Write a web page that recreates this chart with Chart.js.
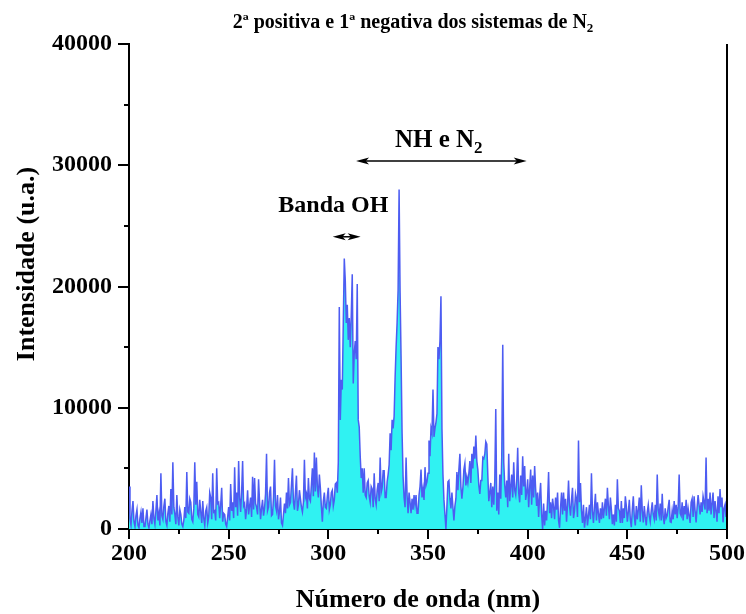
<!DOCTYPE html>
<html><head><meta charset="utf-8">
<script src="https://cdn.jsdelivr.net/npm/chart.js@4.4.0/dist/chart.umd.min.js"></script>
<style>html,body{margin:0;padding:0;background:#fff}#wrap{width:746px;height:614px;position:relative}</style>
</head><body><div id="wrap"><canvas id="c" width="746" height="614"></canvas></div>
<script>
const wavelengths = [
200,200.5,201,201.5,202,202.5,203,203.5,204,204.5,205,205.5,206,206.5,207,207.5,208,208.5,209,209.5,
210,210.5,211,211.5,212,212.5,213,213.5,214,214.5,215,215.5,216,216.5,217,217.5,218,218.5,219,219.5,
220,220.5,221,221.5,222,222.5,223,223.5,224,224.5,225,225.5,226,226.5,227,227.5,228,228.5,229,229.5,
230,230.5,231,231.5,232,232.5,233,233.5,234,234.5,235,235.5,236,236.5,237,237.5,238,238.5,239,239.5,
240,240.5,241,241.5,242,242.5,243,243.5,244,244.5,245,245.5,246,246.5,247,247.5,248,248.5,249,249.5,
250,250.5,251,251.5,252,252.5,253,253.5,254,254.5,255,255.5,256,256.5,257,257.5,258,258.5,259,259.5,
260,260.5,261,261.5,262,262.5,263,263.5,264,264.5,265,265.5,266,266.5,267,267.5,268,268.5,269,269.5,
270,270.5,271,271.5,272,272.5,273,273.5,274,274.5,275,275.5,276,276.5,277,277.5,278,278.5,279,279.5,
280,280.5,281,281.5,282,282.5,283,283.5,284,284.5,285,285.5,286,286.5,287,287.5,288,288.5,289,289.5,
290,290.5,291,291.5,292,292.5,293,293.5,294,294.5,295,295.5,296,296.5,297,297.5,298,298.5,299,299.5,
300,300.5,301,301.5,302,302.5,303,303.5,304,304.5,305,305.5,306,306.5,307,307.5,308,308.5,309,309.5,
310,310.5,311,311.5,312,312.5,313,313.5,314,314.5,315,315.5,316,316.5,317,317.5,318,318.5,319,319.5,
320,320.5,321,321.5,322,322.5,323,323.5,324,324.5,325,325.5,326,326.5,327,327.5,328,328.5,329,329.5,
330,330.5,331,331.5,332,332.5,333,333.5,334,334.5,335,335.5,336,336.5,337,337.5,338,338.5,339,339.5,
340,340.5,341,341.5,342,342.5,343,343.5,344,344.5,345,345.5,346,346.5,347,347.5,348,348.5,349,349.5,
350,350.5,351,351.5,352,352.5,353,353.5,354,354.5,355,355.5,356,356.5,357,357.5,358,358.5,359,359.5,
360,360.5,361,361.5,362,362.5,363,363.5,364,364.5,365,365.5,366,366.5,367,367.5,368,368.5,369,369.5,
370,370.5,371,371.5,372,372.5,373,373.5,374,374.5,375,375.5,376,376.5,377,377.5,378,378.5,379,379.5,
380,380.5,381,381.5,382,382.5,383,383.5,384,384.5,385,385.5,386,386.5,387,387.5,388,388.5,389,389.5,
390,390.5,391,391.5,392,392.5,393,393.5,394,394.5,395,395.5,396,396.5,397,397.5,398,398.5,399,399.5,
400,400.5,401,401.5,402,402.5,403,403.5,404,404.5,405,405.5,406,406.5,407,407.5,408,408.5,409,409.5,
410,410.5,411,411.5,412,412.5,413,413.5,414,414.5,415,415.5,416,416.5,417,417.5,418,418.5,419,419.5,
420,420.5,421,421.5,422,422.5,423,423.5,424,424.5,425,425.5,426,426.5,427,427.5,428,428.5,429,429.5,
430,430.5,431,431.5,432,432.5,433,433.5,434,434.5,435,435.5,436,436.5,437,437.5,438,438.5,439,439.5,
440,440.5,441,441.5,442,442.5,443,443.5,444,444.5,445,445.5,446,446.5,447,447.5,448,448.5,449,449.5,
450,450.5,451,451.5,452,452.5,453,453.5,454,454.5,455,455.5,456,456.5,457,457.5,458,458.5,459,459.5,
460,460.5,461,461.5,462,462.5,463,463.5,464,464.5,465,465.5,466,466.5,467,467.5,468,468.5,469,469.5,
470,470.5,471,471.5,472,472.5,473,473.5,474,474.5,475,475.5,476,476.5,477,477.5,478,478.5,479,479.5,
480,480.5,481,481.5,482,482.5,483,483.5,484,484.5,485,485.5,486,486.5,487,487.5,488,488.5,489,489.5,
490,490.5,491,491.5,492,492.5,493,493.5,494,494.5,495,495.5,496,496.5,497,497.5,498,498.5,499,499.5,
500];
const intensity = [
3500,800,300,1500,2300,600,200,1100,1600,300,
100,900,1400,500,1700,200,200,900,1600,400,
100,700,1200,400,2300,900,400,1500,2800,700,
1300,300,4600,1100,800,1900,2500,600,300,1300,
1900,600,3300,1200,5500,1800,1200,400,2800,1000,
300,1600,1200,400,200,700,1800,900,4700,1400,
1300,2500,2200,800,600,1700,5500,2000,3900,1200,
1000,2400,1400,500,2300,900,300,1500,1800,500,
1000,3000,2600,800,4600,1400,1500,700,5000,2100,
2200,900,2000,3400,600,1300,1200,400,200,1000,
1800,700,3700,1500,2200,900,5100,1800,3000,1100,
5600,2600,1400,3000,5600,1900,2100,800,1700,3200,
1200,1900,2600,1000,4300,1600,4200,2100,1800,1200,
4100,2200,800,1700,2400,1100,1700,2900,6200,1500,
1800,3000,3500,1100,1200,2600,5700,1900,1500,2800,
800,1400,2600,500,300,1200,2100,1300,3000,1700,
4200,2000,2200,3600,5000,2200,1600,3000,4400,1500,
2000,3200,2500,1800,1400,2200,5700,2600,2900,1700,
4200,2500,2300,3600,5000,2700,6300,3100,5900,3500,
2600,4500,3400,1900,600,2300,3000,1800,1700,2700,
3400,1600,2000,3000,3200,1900,2400,3700,3800,3000,
5500,18300,9000,12300,11500,17000,22300,20500,17000,18500,
15600,17400,15000,17600,21000,12000,14500,15500,14000,20200,
9000,8400,6000,4200,5000,3000,5000,2800,2600,3800,
4000,2700,2200,3500,3300,1800,4600,2500,2000,3200,
3800,2300,5900,3000,3400,4800,4800,2600,2600,3900,
4500,5300,7900,6500,9000,8300,9300,12500,15000,17000,
19700,28000,19500,14000,7900,4300,2600,1800,5900,2800,
1300,3000,2200,1300,2500,1600,2800,2000,2800,1300,
1300,2800,3500,4900,2600,3300,2400,5100,3600,3900,
4600,7300,6000,8300,7900,11500,7600,8300,8800,9500,
15000,14000,15500,19200,8300,4500,2400,1200,0,1900,
3900,4000,2500,1700,3000,1800,700,1900,2500,4700,
3200,4900,6200,3500,2500,3400,4900,5400,3600,4300,
3800,4600,5600,3800,6200,5000,6800,5800,7700,5600,
4900,3600,2900,4000,4000,5900,5800,6200,7200,7000,
4500,2300,3000,3800,1800,3500,2000,4000,9900,1500,
3000,1200,4500,2500,6000,15200,5500,3600,2600,4000,
1800,6200,2300,3500,4500,2600,5500,3200,2800,4000,
6700,3000,2200,4400,2800,6000,3500,5200,2400,3000,
4100,1800,3400,4900,2000,4400,2600,5200,3300,1900,
3000,1000,2700,3800,1200,0,2100,300,1500,700,
2400,4700,1300,2200,900,2500,1800,800,2600,1600,
3000,700,100,1800,3000,1200,3000,1500,2500,600,
2000,4000,1900,1100,2400,3400,900,1500,2900,2500,
1000,7300,2200,3800,1500,500,2000,100,900,1800,
300,1100,2000,800,4600,1500,500,1800,2900,700,
2200,1300,500,1700,800,2200,900,1700,2500,1100,
3400,1900,800,2600,1600,400,1200,300,2000,600,
4100,1700,1500,500,2300,500,1700,900,2700,1900,
600,1400,2400,800,150,1600,2700,1000,300,1900,
800,1600,2600,600,3600,1500,550,1900,1000,300,
1400,2000,1100,600,1500,2200,1200,800,2000,700,
4500,1600,1100,2100,700,2900,1000,400,1700,900,
1100,1800,2400,600,550,1500,800,2300,1200,2000,
900,1800,4500,1300,1100,2200,700,1900,1200,2400,
800,1700,1100,500,2200,2500,1000,2700,1500,550,
1800,2800,2000,1200,2200,1400,2700,2200,1600,5900,
1300,2500,1500,3000,1200,2100,3000,900,2300,1500,
600,2700,1300,3300,1800,2600,550,1700,2000,1000,
3200];
const xMajorTicks = [200,250,300,350,400,450,500];
const xMinorTicks = [225,275,325,375,425,475];
const yMajorTicks = [0,10000,20000,30000,40000];
const yMinorTicks = [5000,15000,25000,35000];
const titleMain = '2ª positiva e 1ª negativa dos sistemas de N';
const titleSub = '2';
const xTitle = 'Número de onda (nm)';
const yTitle = 'Intensidade (u.a.)';
const ohLabel = 'Banda OH';
const ohArrow = [302.2, 316.2, 24100];
const ohText = [274.9, 26170];
const nhLabel = 'NH e N';
const nhSub = '2';
const nhArrow = [313.9, 399.5, 30350];
const nhText = [333.4, 31480];

const FONT = '"Liberation Serif", "Times New Roman", serif';

function arrow(ctx, x1, x2, yy, head, half) {
  ctx.beginPath(); ctx.moveTo(x1 + head * 0.6, yy); ctx.lineTo(x2 - head * 0.6, yy); ctx.stroke();
  ctx.beginPath(); ctx.moveTo(x1, yy); ctx.lineTo(x1 + head, yy - half); ctx.lineTo(x1 + head * 0.75, yy); ctx.lineTo(x1 + head, yy + half); ctx.closePath(); ctx.fill();
  ctx.beginPath(); ctx.moveTo(x2, yy); ctx.lineTo(x2 - head, yy - half); ctx.lineTo(x2 - head * 0.75, yy); ctx.lineTo(x2 - head, yy + half); ctx.closePath(); ctx.fill();
}

const deco = {
  id: 'deco',
  afterDraw(chart) {
    const {ctx, chartArea: a, scales: {x, y}} = chart;
    ctx.save();
    ctx.strokeStyle = '#000'; ctx.fillStyle = '#000'; ctx.lineWidth = 2;
    ctx.beginPath(); ctx.moveTo(a.right, a.top); ctx.lineTo(a.right, a.bottom + 1); ctx.stroke();
    const tick = (px, len, horiz) => {
      ctx.beginPath();
      if (horiz) { ctx.moveTo(px, a.bottom); ctx.lineTo(px, a.bottom + len); }
      else { ctx.moveTo(a.left, px); ctx.lineTo(a.left - len, px); }
      ctx.stroke();
    };
    xMajorTicks.forEach(v => tick(Math.round(x.getPixelForValue(v)), 10, true));
    xMinorTicks.forEach(v => tick(Math.round(x.getPixelForValue(v)), 5, true));
    yMajorTicks.forEach(v => tick(Math.round(y.getPixelForValue(v)), 11, false));
    yMinorTicks.forEach(v => tick(Math.round(y.getPixelForValue(v)), 5, false));

    ctx.textBaseline = 'alphabetic'; ctx.textAlign = 'left';
    ctx.font = 'bold 20px ' + FONT;
    const tw = ctx.measureText(titleMain).width;
    ctx.font = 'bold 13px ' + FONT;
    const sw = ctx.measureText(titleSub).width;
    const tx = 413 - (tw + sw) / 2;
    ctx.font = 'bold 20px ' + FONT;
    ctx.fillText(titleMain, tx, 28);
    ctx.font = 'bold 13px ' + FONT;
    ctx.fillText(titleSub, tx + tw, 32);

    ctx.font = 'bold 26px ' + FONT;
    ctx.textAlign = 'center'; ctx.textBaseline = 'middle';
    ctx.fillText(xTitle, 418, 600);
    ctx.save(); ctx.translate(27, 264); ctx.rotate(-Math.PI / 2); ctx.fillText(yTitle, 0, 0); ctx.restore();

    ctx.lineWidth = 1.5;
    arrow(ctx, x.getPixelForValue(nhArrow[0]), x.getPixelForValue(nhArrow[1]), y.getPixelForValue(nhArrow[2]), 13, 3.5);
    arrow(ctx, x.getPixelForValue(ohArrow[0]), x.getPixelForValue(ohArrow[1]), y.getPixelForValue(ohArrow[2]), 13, 3.5);
    ctx.textAlign = 'left'; ctx.textBaseline = 'alphabetic';
    ctx.font = 'bold 24px ' + FONT;
    ctx.fillText(ohLabel, x.getPixelForValue(ohText[0]), y.getPixelForValue(ohText[1]));
    ctx.font = 'bold 25px ' + FONT;
    const nx = x.getPixelForValue(nhText[0]), ny = y.getPixelForValue(nhText[1]);
    ctx.fillText(nhLabel, nx, ny);
    const nw = ctx.measureText(nhLabel).width;
    ctx.font = 'bold 17px ' + FONT;
    ctx.fillText(nhSub, nx + nw, ny + 6);
    ctx.restore();
  }
};

const points = wavelengths.map((w, i) => ({x: w, y: intensity[i]}));

new Chart(document.getElementById('c'), {
  type: 'line',
  data: {
    datasets: [{
      data: points,
      borderColor: '#4d5cf2',
      borderWidth: 1.5,
      backgroundColor: '#30f2f2',
      fill: 'origin',
      pointRadius: 0,
      tension: 0
    }]
  },
  options: {
    responsive: false,
    devicePixelRatio: 1,
    animation: false,
    layout: {padding: {left: 0, right: 19, top: 44, bottom: 0}},
    plugins: {legend: {display: false}, title: {display: false}, tooltip: {enabled: false}},
    scales: {
      x: {
        type: 'linear', min: 200, max: 500,
        afterFit: s => { s.height = 85; s.paddingLeft = 0; s.paddingRight = 0; },
        afterBuildTicks: s => { s.ticks = xMajorTicks.map(v => ({value: v})); },
        grid: {display: true, drawOnChartArea: false, drawTicks: false},
        border: {display: true, color: '#000', width: 2},
        ticks: {padding: 10, color: '#000', font: {family: FONT, size: 24, weight: 'bold'}, maxRotation: 0, callback: v => String(v)}
      },
      y: {
        min: 0, max: 40000,
        afterFit: s => { s.width = 129; s.paddingTop = 0; s.paddingBottom = 0; },
        afterBuildTicks: s => { s.ticks = yMajorTicks.map(v => ({value: v})); },
        grid: {display: true, drawOnChartArea: false, drawTicks: false},
        border: {display: true, color: '#000', width: 2},
        ticks: {padding: 17, color: '#000', font: {family: FONT, size: 24, weight: 'bold'}, callback: v => String(v)}
      }
    }
  },
  plugins: [deco]
});
</script>
</body></html>
